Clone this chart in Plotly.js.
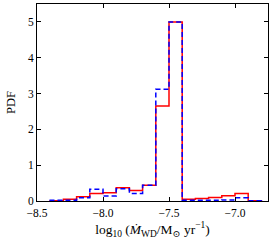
<!DOCTYPE html>
<html>
<head>
<meta charset="utf-8">
<script src="https://cdn.plot.ly/plotly-3.0.1.min.js"></script>
<style>html,body{margin:0;padding:0;background:#fff}#chart{width:274px;height:240px}</style>
</head>
<body>
<div id="chart"></div>
<script>
const binEdges = [-8.4,-8.3,-8.2,-8.1,-8.0,-7.9,-7.8,-7.7,-7.6,-7.5,-7.4,-7.3,-7.2,-7.1,-7.0,-6.9,-6.8];
const redPdf  = [0.01,0.05,0.12,0.21,0.23,0.37,0.29,0.44,2.65,5.0,0.05,0.07,0.10,0.15,0.21,0.01];
const bluePdf = [0.02,0.02,0.09,0.33,0.14,0.34,0.21,0.44,3.12,5.0,0.02,0.02,0.02,0.03,0.09,0.01];
const xTickVals = [-8.5,-8.0,-7.5,-7.0];
const xTickText = ["\u22128.5","\u22128.0","\u22127.5","\u22127.0"];
const yTickVals = [0,1,2,3,4,5];

function stepXY(edges, vals){
  const x=[edges[0]], y=[0];
  for(let i=0;i<vals.length;i++){ x.push(edges[i]); y.push(vals[i]); }
  x.push(edges[edges.length-1]); y.push(0);
  return {x,y};
}
const r = stepXY(binEdges, redPdf), b = stepXY(binEdges, bluePdf);
const fam = '"Liberation Serif", "DejaVu Serif", serif';
const font = {family:fam, size:11.5, color:'#000'};
const traces = [
  {x:r.x, y:r.y, mode:'lines', line:{shape:'hv', color:'#ff0000', width:1.5}, hoverinfo:'skip'},
  {x:b.x, y:b.y, mode:'lines', line:{shape:'hv', color:'#0000ff', width:1.5, dash:'5px,3px'}, hoverinfo:'skip'}
];
const axisCommon = {showline:true, linecolor:'#000', linewidth:1, mirror:'ticks', ticks:'inside',
  ticklen:4, tickwidth:1, tickcolor:'#000', showgrid:false, zeroline:false, tickfont:font};
const layout = {
  width:274, height:240, margin:{l:37, r:6, t:4, b:39},
  paper_bgcolor:'#fff', plot_bgcolor:'#fff', showlegend:false, font:font,
  xaxis:Object.assign({}, axisCommon, {range:[-8.5,-6.75], tickvals:xTickVals, ticktext:xTickText, ticklabelstandoff:1,
    title:{text:'log<sub>10</sub> (<i>M\u0307</i><sub>WD</sub>/M<sub>\u2299</sub> yr<sup>\u22121</sup>)', font:{family:fam,size:13.5,color:'#000'}, standoff:6}}),
  yaxis:Object.assign({}, axisCommon, {range:[0,5.5], tickvals:yTickVals,
    title:{text:'PDF', font:{family:fam,size:12.5,color:'#000'}, standoff:9}})
};
Plotly.newPlot('chart', traces, layout, {staticPlot:true, displayModeBar:false});
</script>
</body>
</html>
